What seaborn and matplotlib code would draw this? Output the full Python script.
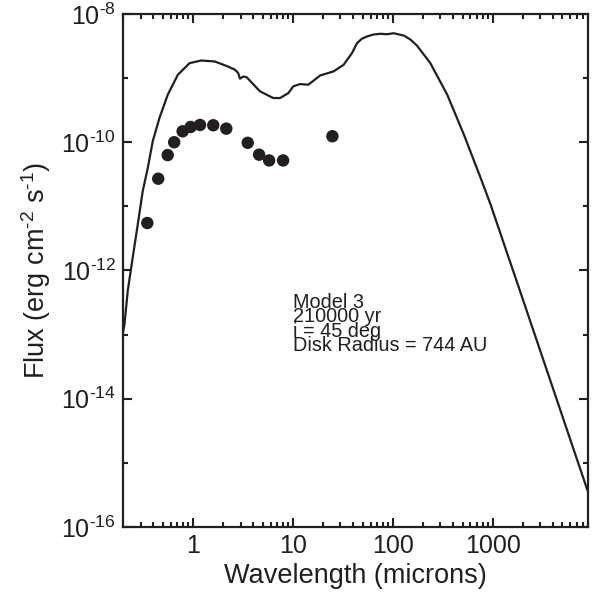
import math
import pandas as pd
import seaborn as sns
import matplotlib.pyplot as plt
from matplotlib.ticker import FixedLocator, LogLocator, FuncFormatter, NullFormatter

# Model SED (wavelength in microns, flux in erg cm^-2 s^-1)
model_wave = [0.199, 0.207, 0.223, 0.250, 0.281, 0.315, 0.354, 0.397, 0.463, 0.561,
              0.708, 0.927, 1.21, 1.65, 2.24, 2.64, 2.84, 2.96, 3.20, 3.46,
              4.70, 6.38, 7.46, 9.04, 10.1, 11.8, 14.3, 18.8, 25.5, 32.2,
              39.1, 43.9, 49.0, 55.2, 64.0, 75.2, 87.7, 102, 129, 150, 175, 238, 351,
              515, 757, 953, 1905, 8890]
model_flux = [1.03e-13, 1.46e-13, 4.82e-13, 1.59e-12, 5.25e-12, 1.73e-11, 3.98e-11, 1.04e-10, 2.39e-10, 5.52e-10,
              1.13e-9, 1.71e-9, 1.88e-9, 1.82e-9, 1.52e-9, 1.35e-9, 1.20e-9, 9.8e-10, 1.06e-9, 1.03e-9,
              6.21e-10, 4.89e-10, 4.89e-10, 5.85e-10, 7.43e-10, 8.07e-10, 7.89e-10, 1.10e-9, 1.27e-9, 1.61e-9,
              2.45e-9, 3.50e-9, 4.10e-9, 4.46e-9, 4.78e-9, 4.91e-9, 4.83e-9, 5.01e-9, 4.61e-9, 4.00e-9, 3.21e-9, 1.71e-9, 5.52e-10,
              1.32e-10, 2.79e-11, 1.07e-11, 4.49e-13, 3.73e-16]

# Observed photometry
obs_wave = [0.35, 0.45, 0.56, 0.65, 0.79, 0.95, 1.18, 1.6, 2.16, 3.54, 4.6, 5.8, 8.0, 24.9]
obs_flux = [5.5e-12, 2.7e-11, 6.3e-11, 1.0e-10, 1.48e-10, 1.73e-10, 1.86e-10, 1.84e-10, 1.63e-10,
            9.8e-11, 6.4e-11, 5.2e-11, 5.2e-11, 1.24e-10]

y_major = [1e-16, 1e-14, 1e-12, 1e-10, 1e-8]
y_minor = [1e-15, 1e-13, 1e-11, 1e-9]
x_major = [1, 10, 100, 1000]
x_labels = ["1", "10", "100", "1000"]

note_lines = ["Model 3", "210000 yr", "i = 45 deg", "Disk Radius = 744 AU"]

ink = "#231f20"

sns.set_theme(style="ticks")
plt.rcParams['font.family'] = ['Liberation Sans', 'DejaVu Sans']
plt.rcParams['mathtext.fontset'] = 'custom'
plt.rcParams['mathtext.rm'] = 'Liberation Sans'
plt.rcParams['mathtext.it'] = 'Liberation Sans:italic'
plt.rcParams['mathtext.bf'] = 'Liberation Sans:bold'

fig = plt.figure(figsize=(5.94, 5.95), dpi=100)
ax = fig.add_axes([0.2071, 0.1143, 0.7828, 0.8622])

model = pd.DataFrame({"wave": model_wave, "flux": model_flux})
obs = pd.DataFrame({"wave": obs_wave, "flux": obs_flux})

sns.lineplot(data=model, x="wave", y="flux", sort=False, color=ink,
             linewidth=1.6, ax=ax, zorder=3)
sns.scatterplot(data=obs, x="wave", y="flux", color=ink, s=80,
                edgecolor="none", ax=ax, zorder=4)

ax.set_xscale("log")
ax.set_yscale("log")
ax.set_xlim(0.2, 9000)
ax.set_ylim(1e-16, 1e-8)

# Ticks
ax.yaxis.set_major_locator(FixedLocator(y_major))
ax.yaxis.set_minor_locator(FixedLocator(y_minor))
ax.yaxis.set_major_formatter(FuncFormatter(
    lambda v, p: r"10$^{\text{%d}}$" % round(math.log10(v))))
ax.yaxis.set_minor_formatter(NullFormatter())

ax.xaxis.set_major_locator(FixedLocator(x_major))
ax.xaxis.set_major_formatter(FuncFormatter(lambda v, p: x_labels[x_major.index(round(v))]
                                           if round(v) in x_major else ""))
ax.xaxis.set_minor_locator(LogLocator(base=10, subs=range(2, 10), numticks=20))
ax.xaxis.set_minor_formatter(NullFormatter())

ax.tick_params(which="both", direction="in", top=True, right=True, color=ink,
               width=1.5, labelcolor=ink, labelsize=18)
ax.tick_params(which="major", length=6.5, pad=5)
ax.tick_params(which="minor", length=3.5)
for s in ax.spines.values():
    s.set_linewidth(1.6)
    s.set_color(ink)

ax.set_xlabel("Wavelength (microns)", fontsize=19.5, color=ink, labelpad=4)
ax.set_ylabel(r"Flux (erg cm$^{\text{-2}}$ s$^{\text{-1}}$)",
              fontsize=19.5, color=ink, labelpad=6)

# Annotation block
for i, line in enumerate(note_lines):
    ax.text(0.366, 0.427 - i * 0.0279, line, transform=ax.transAxes,
            fontsize=14.3, color=ink, ha="left", va="baseline")

fig.savefig("out.png", dpi=100, facecolor="white")
